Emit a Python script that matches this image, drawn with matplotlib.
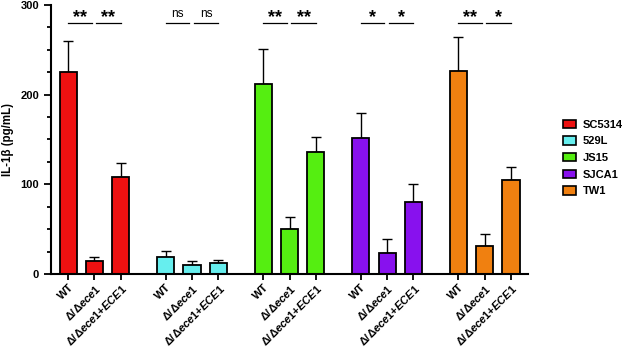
import numpy as np
import matplotlib.pyplot as plt
from matplotlib.patches import Patch

plt.rcParams['font.family'] = ['Liberation Sans', 'DejaVu Sans']
plt.rcParams['font.weight'] = 'bold'
plt.rcParams['mathtext.fontset'] = 'custom'
plt.rcParams['mathtext.rm'] = 'Liberation Sans:bold'
plt.rcParams['mathtext.it'] = 'Liberation Sans:bold:italic'
plt.rcParams['mathtext.bf'] = 'Liberation Sans:bold'

# data
strains = ['SC5314', '529L', 'JS15', 'SJCA1', 'TW1']
colors = ['#EE1111', '#66EEEE', '#55EE11', '#8811EE', '#F08010']
conditions = ['WT', r'Δ/Δ$\it{ece1}$', r'Δ/Δ$\it{ece1}$+$\it{ECE1}$']
means = [[225, 14, 108],
         [19, 9.5, 12],
         [212, 50, 136],
         [152, 23, 80],
         [226, 31, 105]]
errs = [[35, 5.5, 16],
        [7, 4.5, 3.5],
        [39, 14, 17],
        [28, 16, 20],
        [38, 14, 14]]
signif = [['**', '**'], ['ns', 'ns'], ['**', '**'], ['*', '*'], ['**', '*']]

group_gap = 3.7
bar_w = 0.65

fig = plt.figure(figsize=(6.25, 3.47), dpi=100)
ax = fig.add_axes([0.0816, 0.2104, 0.845 - 0.0816, 0.9856 - 0.2104])

xticks, xlabels = [], []
for g, strain in enumerate(strains):
    xs = g * group_gap + np.arange(3)
    ax.bar(xs, means[g], width=bar_w, color=colors[g], edgecolor='black',
           linewidth=1.3, zorder=2)
    ax.errorbar(xs, means[g], yerr=[np.zeros(3), errs[g]], fmt='none',
                ecolor='black', elinewidth=1.0, capsize=3.3, capthick=1.0, zorder=1)
    xticks.extend(xs)
    xlabels.extend(conditions)
    # significance bars
    for k, s in enumerate(signif[g]):
        x0 = xs[k] + (0.06 if k == 1 else 0.0)
        x1 = xs[k + 1] - (0.1 if k == 0 else 0.0)
        ax.plot([x0, x1], [279.5, 279.5], color='black', lw=0.9, clip_on=False)
        if s == 'ns':
            ax.text((x0 + x1) / 2, 283, s, ha='center', va='bottom',
                    fontsize=8.5, fontweight='normal')
        else:
            ax.text((x0 + x1) / 2, 277, s, ha='center', va='bottom',
                    fontsize=13, fontweight='bold')

ax.set_xticks(xticks)
ax.set_xticklabels(xlabels, rotation=45, ha='right', rotation_mode='anchor',
                   fontsize=8)
ax.set_xlim(-0.65, 4 * group_gap + 2 + 0.65)
ax.set_ylim(0, 300)
ax.set_yticks([0, 100, 200, 300])
ax.set_yticks(np.arange(0, 301, 25), minor=True)
ax.tick_params(axis='y', which='major', length=5, width=1.3, labelsize=8)
ax.tick_params(axis='y', which='minor', length=3, width=1.3)
ax.tick_params(axis='x', length=4, width=1.3, pad=2)
ax.spines['top'].set_visible(False)
ax.spines['right'].set_visible(False)
ax.spines['left'].set_linewidth(1.5)
ax.spines['bottom'].set_linewidth(1.5)
ax.set_ylabel('IL-1β (pg/mL)', fontsize=8.3, fontweight='bold', labelpad=5)

handles = [Patch(facecolor=c, edgecolor='black', linewidth=1.2) for c in colors]
fig.legend(handles, strains, loc='upper left', bbox_to_anchor=(0.9, 0.655),
           frameon=False, fontsize=8, handlelength=1.25, handleheight=0.75,
           handletextpad=0.55, labelspacing=0.6, borderaxespad=0, borderpad=0)

fig.savefig('out.png', dpi=100)
